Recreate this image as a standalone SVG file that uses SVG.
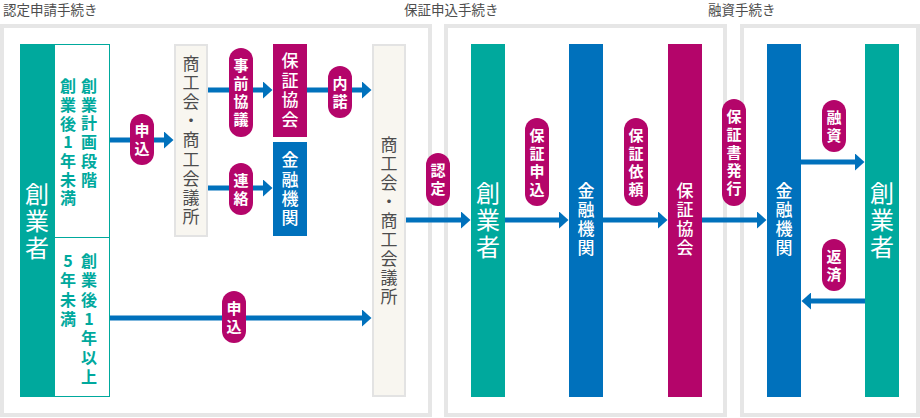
<svg xmlns="http://www.w3.org/2000/svg" width="920" height="418" viewBox="0 0 920 418">
<defs>
<style>
text{font-family:"Noto Sans CJK JP","Noto Sans",sans-serif;text-anchor:middle}
.v{writing-mode:vertical-rl;text-orientation:upright}
.title{font-size:13.5px;fill:#4d4d4d;text-anchor:start}
.panel{fill:#fff;stroke:#e6e6e6;stroke-width:4}
.teal{fill:#00a99d}
.blue{fill:#0071bc}
.mag{fill:#b4056a}
.beige{fill:#f8f6f0;stroke:#e3e3e3;stroke-width:2}
.big{font-size:24px;fill:#fff;letter-spacing:3px}
.wt{font-size:17px;fill:#fff;font-weight:500;letter-spacing:2px}
.gt{font-size:17px;fill:#4d4d4d;letter-spacing:2.1px}
.tt{font-size:16px;fill:#00a99d;font-weight:bold;letter-spacing:2.7px}
.tt2{font-size:16px;fill:#00a99d;font-weight:bold;letter-spacing:3.3px}
.pt{font-size:15px;fill:#fff;font-weight:bold;letter-spacing:3px}
.conn{stroke:#0071bc;stroke-width:5;fill:none;marker-end:url(#ah)}
</style>
<marker id="ah" markerUnits="userSpaceOnUse" markerWidth="10" markerHeight="17" refX="0.5" refY="8.5" orient="auto" viewBox="0 0 10 17">
<path d="M0,0 L9.5,8.5 L0,17 Z" fill="#0071bc"/>
</marker>
</defs>
<rect width="920" height="418" fill="#fff"/>
<g id="titles">
<text class="title" x="3" y="14.5">認定申請手続き</text>
<text class="title" x="404" y="14.5">保証申込手続き</text>
<text class="title" x="708" y="14.5">融資手続き</text>
</g>
<g id="panels">
<rect class="panel" x="2" y="26" width="428" height="389"/>
<rect class="panel" x="446" y="26" width="279" height="389"/>
<rect class="panel" x="742" y="26" width="176" height="389"/>
</g>
<g id="founder1">
<rect class="teal" x="20" y="44" width="34" height="353"/>
<text class="v big" x="37" y="222">創業者</text>
</g>
<g id="stages">
<rect x="54.5" y="44.5" width="55" height="352" fill="#fff" stroke="#00a99d" stroke-width="1"/>
<line x1="54" y1="237.5" x2="110" y2="237.5" stroke="#00a99d" stroke-width="1"/>
<text class="v tt" x="89" y="134.1">創業計画段階</text>
<text class="v tt" x="68" y="143.5">創業後1年未満</text>
<text class="v tt2" x="89" y="320.6">創業後1年以上</text>
<text class="v tt2" x="68" y="291.6">5年未満</text>
</g>
<g id="chamber1">
<rect class="beige" x="175" y="45" width="32" height="191"/>
<text class="v gt" x="191" y="141">商工会・商工会議所</text>
</g>
<g id="guarantee1">
<rect class="mag" x="273" y="44" width="34" height="93"/>
<text class="v wt" x="290" y="91.3" style="letter-spacing:2.7px">保証協会</text>
</g>
<g id="bank1">
<rect class="blue" x="273" y="142" width="34" height="94"/>
<text class="v wt" x="290" y="189.9" style="letter-spacing:2.2px">金融機関</text>
</g>
<g id="chamber2">
<rect class="beige" x="373" y="45" width="32" height="351"/>
<text class="v gt" x="389" y="221.5">商工会・商工会議所</text>
</g>
<g id="founder2">
<rect class="teal" x="471" y="44" width="34" height="353"/>
<text class="v big" x="488" y="221.5">創業者</text>
</g>
<g id="bank2">
<rect class="blue" x="569" y="44" width="34" height="353"/>
<text class="v wt" x="586" y="220">金融機関</text>
</g>
<g id="guarantee2">
<rect class="mag" x="668" y="44" width="34" height="353"/>
<text class="v wt" x="685" y="220">保証協会</text>
</g>
<g id="bank3">
<rect class="blue" x="767" y="44" width="34" height="353"/>
<text class="v wt" x="784" y="220">金融機関</text>
</g>
<g id="founder3">
<rect class="teal" x="865" y="44" width="34" height="353"/>
<text class="v big" x="882" y="221.5">創業者</text>
</g>
<g id="connectors">
<g>
<line class="conn" x1="110" y1="140" x2="164.5" y2="140"/>
<rect class="mag" x="130" y="114" width="24" height="51" rx="12"/>
<text class="v pt" x="142" y="141">申込</text>
</g>
<g>
<line class="conn" x1="208" y1="90" x2="263.5" y2="90"/>
<rect class="mag" x="229" y="48" width="24" height="89" rx="12"/>
<text class="v pt" x="241" y="94">事前協議</text>
</g>
<g>
<line class="conn" x1="307" y1="90" x2="362.5" y2="90"/>
<rect class="mag" x="328" y="66" width="24" height="52" rx="12"/>
<text class="v pt" x="340" y="93.5">内諾</text>
</g>
<g>
<line class="conn" x1="208" y1="188" x2="263.5" y2="188"/>
<rect class="mag" x="229" y="163" width="24" height="52" rx="12"/>
<text class="v pt" x="241" y="190.5">連絡</text>
</g>
<g>
<line class="conn" x1="110" y1="318" x2="362.5" y2="318"/>
<rect class="mag" x="222" y="291" width="24" height="52" rx="12"/>
<text class="v pt" x="234" y="318.5">申込</text>
</g>
<g>
<line class="conn" x1="406" y1="220" x2="461.5" y2="220"/>
<rect class="mag" x="426" y="153" width="24" height="53" rx="12"/>
<text class="v pt" x="438" y="181">認定</text>
</g>
<g>
<line class="conn" x1="505" y1="220" x2="559.5" y2="220"/>
<rect class="mag" x="525" y="118" width="24" height="88" rx="12"/>
<text class="v pt" x="537" y="163.5">保証申込</text>
</g>
<g>
<line class="conn" x1="603" y1="220" x2="658.5" y2="220"/>
<rect class="mag" x="624" y="118" width="24" height="88" rx="12"/>
<text class="v pt" x="636" y="163.5">保証依頼</text>
</g>
<g>
<line class="conn" x1="702" y1="220" x2="757.5" y2="220"/>
<rect class="mag" x="722" y="99" width="24" height="107" rx="12"/>
<text class="v pt" x="734" y="154">保証書発行</text>
</g>
<g>
<line class="conn" x1="801" y1="162" x2="855.5" y2="162"/>
<rect class="mag" x="822" y="100" width="24" height="52" rx="12"/>
<text class="v pt" x="834" y="127.5">融資</text>
</g>
<g>
<line class="conn" x1="865" y1="301" x2="810.5" y2="301"/>
<rect class="mag" x="822" y="239" width="24" height="52" rx="12"/>
<text class="v pt" x="834" y="266.5">返済</text>
</g>
</g>
</svg>
